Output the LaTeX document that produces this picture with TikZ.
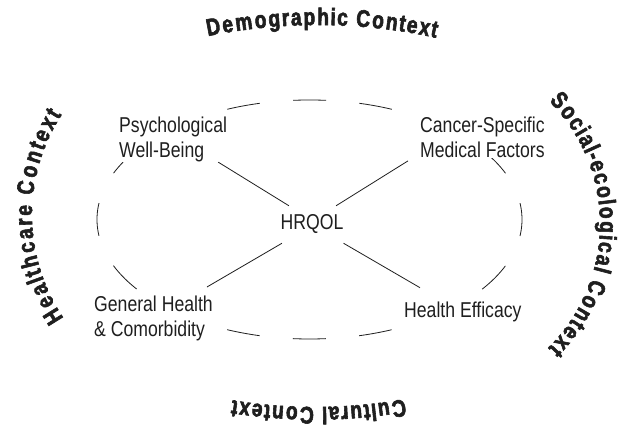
\documentclass[tikz,border=0pt]{standalone}
\usepackage{fontspec}
\newfontfamily\narrowfont{Liberation Sans}[FakeStretch=0.82]
\newfontfamily\narrowbold{Liberation Sans Bold}[FakeStretch=0.80, FakeBold=2.4]
\usetikzlibrary{decorations.text}
\definecolor{ink}{gray}{0.12}
\newcommand\ctxfont{\narrowbold\fontsize{24}{24}\selectfont}
\begin{document}
\begin{tikzpicture}[x=1pt,y=1pt,
  lbl/.style={font=\narrowfont\fontsize{21.5}{25}\selectfont, text=ink, align=left, inner sep=0pt, anchor=north west, fill=white},
  link/.style={draw=ink, line width=0.8pt},
  ctx/.style={decorate, decoration={text effects along path, text={#1},
     text effects/.cd, text along path, fit text to path,
     characters={font=\ctxfont, text=ink}}}
  ]
\useasboundingbox[fill=white] (0,0) rectangle (621,427);
% dashed ellipse
\draw[ink, line width=0.8pt, dash pattern=on 33pt off 33.47pt, dash phase=16.5pt]
  (309.5,207.5) ellipse [x radius=212.5pt, y radius=119.5pt];
% labels
\node[lbl] (psy) at (119,310.3) {Psychological\\Well-Being};
\node[lbl] (can) at (420,310.3) {Cancer-Specific\\Medical Factors};
\node[lbl] (gen) at (94,131) {General Health\\\& Comorbidity};
\node[lbl] (eff) at (404,125.3) {Health Efficacy};
\node[font=\narrowfont\fontsize{21.5}{25}\selectfont, text=ink, inner xsep=0pt, inner ysep=9pt, anchor=base] (hrq) at (312,197) {HRQOL};
% connectors
\draw[link] ([xshift=-9pt]psy.south east) -- ([xshift=8.5pt]hrq.north west);
\draw[link] ([xshift=-12pt,yshift=-3pt]can.south west) -- ([xshift=-7.5pt]hrq.north east);
\draw[link] ([xshift=-6pt,yshift=9pt]gen.north east) -- ([xshift=1.5pt]hrq.south west);
\draw[link] ([xshift=16pt,yshift=14pt]eff.north west) -- (hrq.south east);
% curved context labels
\path[ctx={Demographic Context}]
  ([shift={(101.5:552)}]318,-150) arc[start angle=101.5, end angle=77.65, radius=552pt];
\path[ctx={Social-ecological Context}]
  ([shift={(45:174)}]426,203) arc[start angle=45, end angle=-45.5, radius=174pt];
\path[ctx={Cultural Context}]
  ([shift={(-80:516)}]315,536) arc[start angle=-80, end angle=-99.2, radius=516pt];
\path[ctx={Healthcare Context}]
  ([shift={(214.1:184)}]216,212) arc[start angle=214.1, end angle=147, radius=184pt];
\end{tikzpicture}
\end{document}
